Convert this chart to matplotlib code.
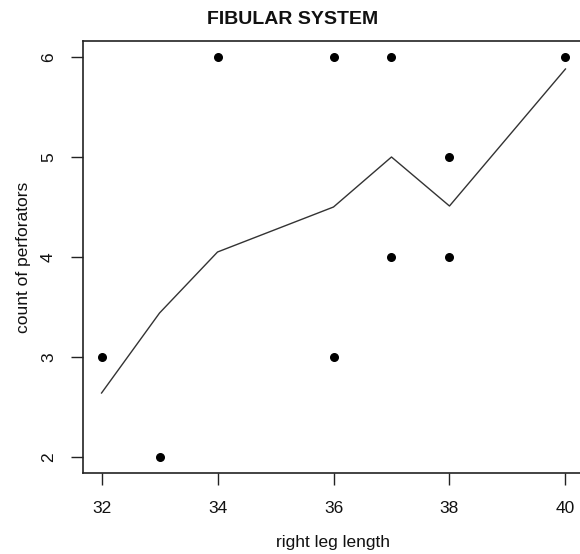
import matplotlib
matplotlib.use("Agg")
import matplotlib.pyplot as plt

plt.rcParams['font.family'] = ['Liberation Sans', 'DejaVu Sans']

# ----------- 数据 -----------
leg_length = [32, 33, 34, 36, 36, 37, 37, 38, 38, 40]
perforators = [3, 2, 6, 6, 3, 6, 4, 5, 4, 6]

line_x = [32, 33, 34, 36, 37, 38, 40]
line_y = [2.64, 3.44, 4.05, 4.50, 5.00, 4.51, 5.88]

x_ticks = [32, 34, 36, 38, 40]
y_ticks = [2, 3, 4, 5, 6]

# ----------- 绘制 -----------
fig = plt.figure(figsize=(5.8, 5.54), dpi=100)
ax = fig.add_axes([83 / 580, 81 / 554, 501 / 580, 432 / 554])

ax.plot(line_x, line_y, color='#333333', linewidth=1.0)
ax.scatter(leg_length, perforators, s=30, color='black', zorder=3)

ax.set_xlim(31.68, 40.32)
ax.set_ylim(1.84, 6.16)
ax.set_xticks(x_ticks)
ax.set_yticks(y_ticks)
ax.tick_params(axis='both', direction='out', length=8.5, width=1, labelsize=12.5,
               color='#222222', labelcolor='#111111')
ax.tick_params(axis='x', pad=12)
ax.tick_params(axis='y', pad=11)
for lbl in ax.get_yticklabels():
    lbl.set_rotation(90)
    lbl.set_va('center')
for sp in ax.spines.values():
    sp.set_linewidth(1.2)
    sp.set_color('#222222')

ax.set_xlabel('right leg length', fontsize=12.5, color='#111111', va='center')
ax.set_ylabel('count of perforators', fontsize=12.5, color='#111111', va='center')
ax.xaxis.set_label_coords(0.5, -0.16)
ax.yaxis.set_label_coords(-0.118, 0.5)
fig.text(0.505, 0.965, 'FIBULAR SYSTEM', ha='center', va='center',
         fontsize=14, fontweight='bold', color='#111111')

fig.savefig('out.png', dpi=100)
plt.close(fig)
